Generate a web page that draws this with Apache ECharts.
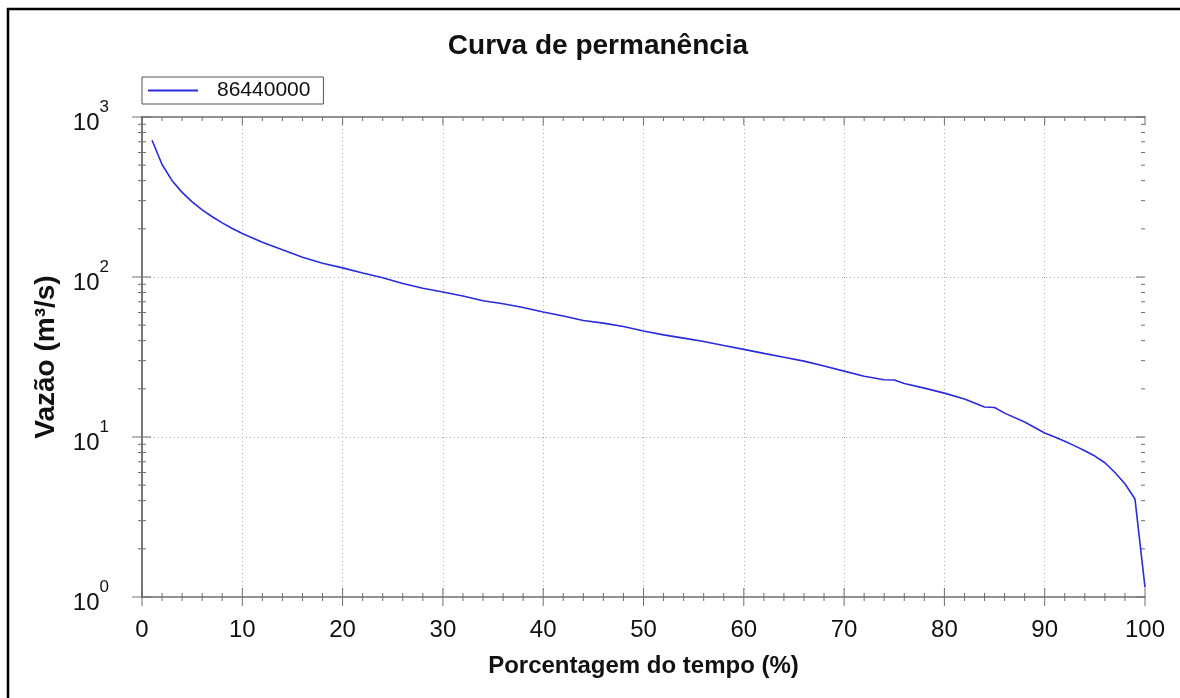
<!DOCTYPE html>
<html><head><meta charset="utf-8">
<script src="https://cdn.jsdelivr.net/npm/echarts@6/dist/echarts.min.js"></script>
<style>html,body{margin:0;padding:0;background:#fff}#c{width:1180px;height:698px}</style>
</head><body><div id="c"></div>
<script>
const chartTitle = 'Curva de permanência';
const seriesName = '86440000';
const xAxisTitle = 'Porcentagem do tempo (%)';
const yAxisTitle = 'Vazão (m³/s)';
const percent = [1,2,3,4,5,6,7,8,9,10,12,14,16,18,20,22,24,26,28,30,32,34,36,38,40,42,44,46,48,50,52,54,56,58,60,62,64,66,68,70,72,74,75,76,78,80,82,84,85,86,88,90,91,92,93,94,95,96,97,98,99,100];
const flow = [715,505,400,338,295,263,238,218,201,187,165,148,133,122,114,106,99,91,85,80.5,76,71,68,64.5,60.5,57,53.5,51.5,49,46,43.5,41.5,39.5,37.3,35.3,33.3,31.5,29.8,27.8,25.8,24,22.8,22.7,21.6,20.2,18.8,17.3,15.4,15.3,14.1,12.4,10.6,10.0,9.4,8.8,8.2,7.6,6.9,6.0,5.1,4.1,1.15];
const xMajorTicks = [0,10,20,30,40,50,60,70,80,90,100];
const xMinorTicks = [2,4,6,8,12,14,16,18,22,24,26,28,32,34,36,38,42,44,46,48,52,54,56,58,62,64,66,68,72,74,76,78,82,84,86,88,92,94,96,98];
const yMajorTicks = [1,10,100,1000];
const yMinorTicks = [2,3,4,5,6,7,8,9,20,30,40,50,60,70,80,90,200,300,400,500,600,700,800,900];

const chart = echarts.init(document.getElementById('c'), null, {renderer:'canvas'});
const AX = '#6e6e6e';
const FONT = 'Liberation Sans, Arial, sans-serif';

function tickRender(params, api){
  const kids = [];
  const L = (x1,y1,x2,y2)=>kids.push({type:'line',shape:{x1:x1,y1:y1,x2:x2,y2:y2},style:{stroke:AX,lineWidth:1}});
  xMajorTicks.forEach(v=>{
    const b = api.coord([v,1]); const t = api.coord([v,1000]);
    L(b[0],b[1]-9,b[0],b[1]+9);
    L(t[0],t[1],t[0],t[1]+8);
  });
  xMinorTicks.forEach(v=>{
    const b = api.coord([v,1]); const t = api.coord([v,1000]);
    L(b[0],b[1]-4,b[0],b[1]+4);
    L(t[0],t[1],t[0],t[1]+4);
  });
  yMajorTicks.forEach(v=>{
    const l = api.coord([0,v]); const r = api.coord([100,v]);
    L(l[0]-10,l[1],l[0]+9,l[1]);
    L(r[0]-9,r[1],r[0],r[1]);
  });
  yMinorTicks.forEach(v=>{
    const l = api.coord([0,v]); const r = api.coord([100,v]);
    L(l[0]-4,l[1],l[0]+4,l[1]);
    L(r[0]-4,r[1],r[0],r[1]);
  });
  return {type:'group',children:kids};
}

const option = {
  backgroundColor:'#fff',
  animation:false,
  textStyle:{fontFamily:FONT},
  title:{text:chartTitle,left:598,textAlign:'center',top:32,padding:0,
    textStyle:{fontFamily:FONT,fontSize:28,fontWeight:'bold',color:'#111'}},
  legend:{data:[{name:seriesName,icon:'rect'}],left:142,top:77,orient:'horizontal',
    itemWidth:50,itemHeight:2,padding:[3,13,3,6],borderColor:'#555',borderWidth:1,
    textStyle:{fontFamily:FONT,fontSize:21,color:'#111',padding:[0,0,0,14]}},
  grid:{left:142,right:35,top:117,bottom:101,containLabel:false},
  xAxis:[
    {type:'value',min:0,max:100,interval:10,position:'bottom',
     axisLine:{show:true,lineStyle:{color:AX,width:1.5}},axisTick:{show:false},
     axisLabel:{fontFamily:FONT,fontSize:24,color:'#111',margin:21},
     splitLine:{show:true,showMinLine:false,showMaxLine:false,lineStyle:{color:'#a8a8a8',type:[1,3],width:1}},
     name:xAxisTitle,nameLocation:'middle',nameGap:57,
     nameTextStyle:{fontFamily:FONT,fontSize:24,fontWeight:'bold',color:'#111'}},
    {type:'value',min:0,max:100,interval:10,position:'top',
     axisLine:{show:true,lineStyle:{color:AX,width:1.5}},axisTick:{show:false},axisLabel:{show:false},splitLine:{show:false}}
  ],
  yAxis:[
    {type:'log',logBase:10,min:1,max:1000,position:'left',
     axisLine:{show:true,lineStyle:{color:AX,width:1.5}},axisTick:{show:false},
     axisLabel:{margin:33,formatter:function(v){return '{b|10}{s|'+Math.round(Math.log10(v))+'}';},
       rich:{b:{fontFamily:FONT,fontSize:24,color:'#111',lineHeight:36,verticalAlign:'bottom'},
             s:{fontFamily:FONT,fontSize:17,color:'#111',lineHeight:36,verticalAlign:'top'}}},
     splitLine:{show:true,showMinLine:false,showMaxLine:false,lineStyle:{color:'#a8a8a8',type:[1,3],width:1}},
     minorTick:{show:false},
     name:yAxisTitle,nameLocation:'middle',nameGap:82,nameRotate:90,
     nameTextStyle:{fontFamily:FONT,fontSize:28,fontWeight:'bold',color:'#111'}},
    {type:'log',logBase:10,min:1,max:1000,position:'right',
     axisLine:{show:true,lineStyle:{color:AX,width:1.5}},axisTick:{show:false},axisLabel:{show:false},splitLine:{show:false}}
  ],
  graphic:[
    {type:'line',shape:{x1:8,y1:8,x2:8,y2:698},style:{stroke:'#000',lineWidth:2.5},z:100},
    {type:'line',shape:{x1:7,y1:9,x2:1180,y2:9},style:{stroke:'#000',lineWidth:2.5},z:100}
  ],
  series:[
    {name:seriesName,type:'line',xAxisIndex:0,yAxisIndex:0,
     data:percent.map((p,i)=>[p,flow[i]]),showSymbol:false,symbol:'none',
     lineStyle:{color:'#2b2bdc',width:1.6},itemStyle:{color:'#2b2bdc'},z:5},
    {name:'ticks',type:'custom',xAxisIndex:0,yAxisIndex:0,data:[[50,10]],renderItem:tickRender,clip:false,silent:true,z:4}
  ]
};
chart.setOption(option);
</script>
</body></html>
